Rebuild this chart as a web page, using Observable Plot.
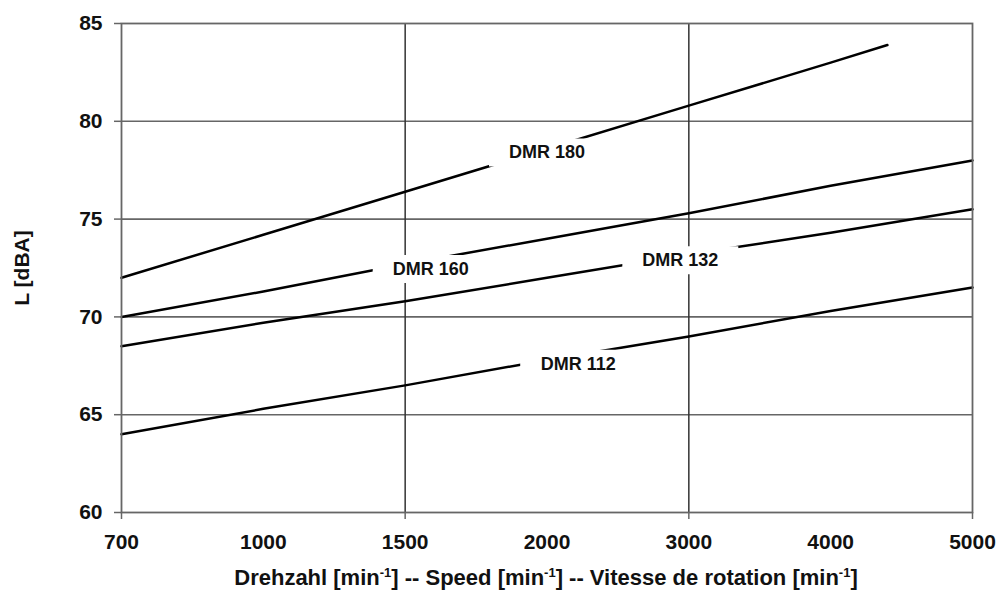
<!DOCTYPE html>
<html>
<head>
<meta charset="utf-8">
<script src="https://cdn.jsdelivr.net/npm/d3@7"></script>
<script src="https://cdn.jsdelivr.net/npm/@observablehq/plot@0.6"></script>
<style>
  html, body { margin: 0; padding: 0; background: #fff; overflow: hidden; }
  #chart svg { display: block; }
  #xtitle {
    position: relative; top: 2px;
    width: 900px; padding-left: 96px; height: 32px; line-height: 32px;
    text-align: center; font-family: "Liberation Sans", Arial, sans-serif;
    font-weight: bold; font-size: 22px; color: #111; white-space: nowrap;
  }
  #xtitle sup { font-size: 13px; line-height: 0; }
</style>
</head>
<body>
<div id="chart"></div>
<div id="xtitle">Drehzahl [min<sup>-1</sup>] -- Speed [min<sup>-1</sup>] -- Vitesse de rotation [min<sup>-1</sup>]</div>
<script>
// Category axis (evenly spaced speeds)
const speeds = [700, 1000, 1500, 2000, 3000, 4000, 5000];
const yTicks = [60, 65, 70, 75, 80, 85];
const gridSpeeds = [1500, 3000];
const tickMarkSpeeds = [700, 1500, 3000, 5000];

// Series
const dmr180Speeds = [700, 1000, 1500, 2000, 3000, 4000, 4400];
const dmr180 = [72.0, 74.2, 76.4, 78.6, 80.8, 83.0, 83.9];
const dmr160 = [70.0, 71.3, 72.7, 74.0, 75.3, 76.7, 78.0];
const dmr132 = [68.5, 69.7, 70.8, 72.0, 73.2, 74.3, 75.5];
const dmr112 = [64.0, 65.3, 66.5, 67.8, 69.0, 70.3, 71.5];

// Labels
const labelNames = ["DMR 180", "DMR 160", "DMR 132", "DMR 112"];
const labelSpeeds = [2000, 1590, 2940, 2220];
const labelValues = [78.4, 72.45, 72.9, 67.6];

// speed -> category position (piecewise linear between categories)
const idx = d3.scaleLinear().domain(speeds).range(speeds.map((d, i) => i));

const series = [
  {name: "DMR 180", s: dmr180Speeds, v: dmr180},
  {name: "DMR 160", s: speeds, v: dmr160},
  {name: "DMR 132", s: speeds, v: dmr132},
  {name: "DMR 112", s: speeds, v: dmr112}
];
const lineData = series.flatMap(sr => sr.v.map((v, i) => ({name: sr.name, x: idx(sr.s[i]), y: v})));
const labels = labelNames.map((n, i) => ({name: n, x: idx(labelSpeeds[i]), y: labelValues[i]}));

const boxSymbol = {draw(context) { context.rect(-58, -14, 116, 28); }};
const font = "Liberation Sans, Arial, sans-serif";

const plot = Plot.plot({
  width: 996,
  height: 560,
  marginLeft: 121,
  marginRight: 24,
  marginTop: 23,
  marginBottom: 48,
  style: {fontFamily: font, fontWeight: "bold", fontSize: "21px", color: "#111", background: "#fff"},
  x: {type: "linear", domain: [0, speeds.length - 1]},
  y: {domain: [60, 85]},
  marks: [
    Plot.gridY([65, 70, 75, 80], {stroke: "#666", strokeOpacity: 1, strokeWidth: 1.6}),
    Plot.gridX(gridSpeeds.map(s => idx(s)), {stroke: "#333", strokeOpacity: 1, strokeWidth: 1.5}),
    Plot.line(lineData, {x: "x", y: "y", z: "name", stroke: "#000", strokeWidth: 2.5}),
    Plot.dot(labels, {x: "x", y: "y", symbol: boxSymbol, fill: "#fff", stroke: "none"}),
    Plot.text(labels, {x: "x", y: "y", text: "name", fontSize: 18, fontWeight: "bold", fill: "#111"}),
    Plot.frame({stroke: "#666", strokeWidth: 1.8}),
    Plot.axisY(yTicks, {tickSize: 7, tickPadding: 12, stroke: "#666", strokeWidth: 1.5, fontSize: 21, label: null}),
    Plot.axisX(speeds.map((s, i) => i), {tickSize: 0, tickPadding: 22, tickFormat: i => String(speeds[i]), fontSize: 21, label: null}),
    Plot.axisX(tickMarkSpeeds.map(s => idx(s)), {tickSize: 7, stroke: "#666", strokeWidth: 1.5, tickFormat: () => "", label: null}),
    Plot.text(["L [dBA]"], {frameAnchor: "left", textAnchor: "middle", dx: -99, rotate: -90, fontSize: 21, fontWeight: "bold", fill: "#111"})
  ]
});
document.getElementById("chart").appendChild(plot);
</script>
</body>
</html>
